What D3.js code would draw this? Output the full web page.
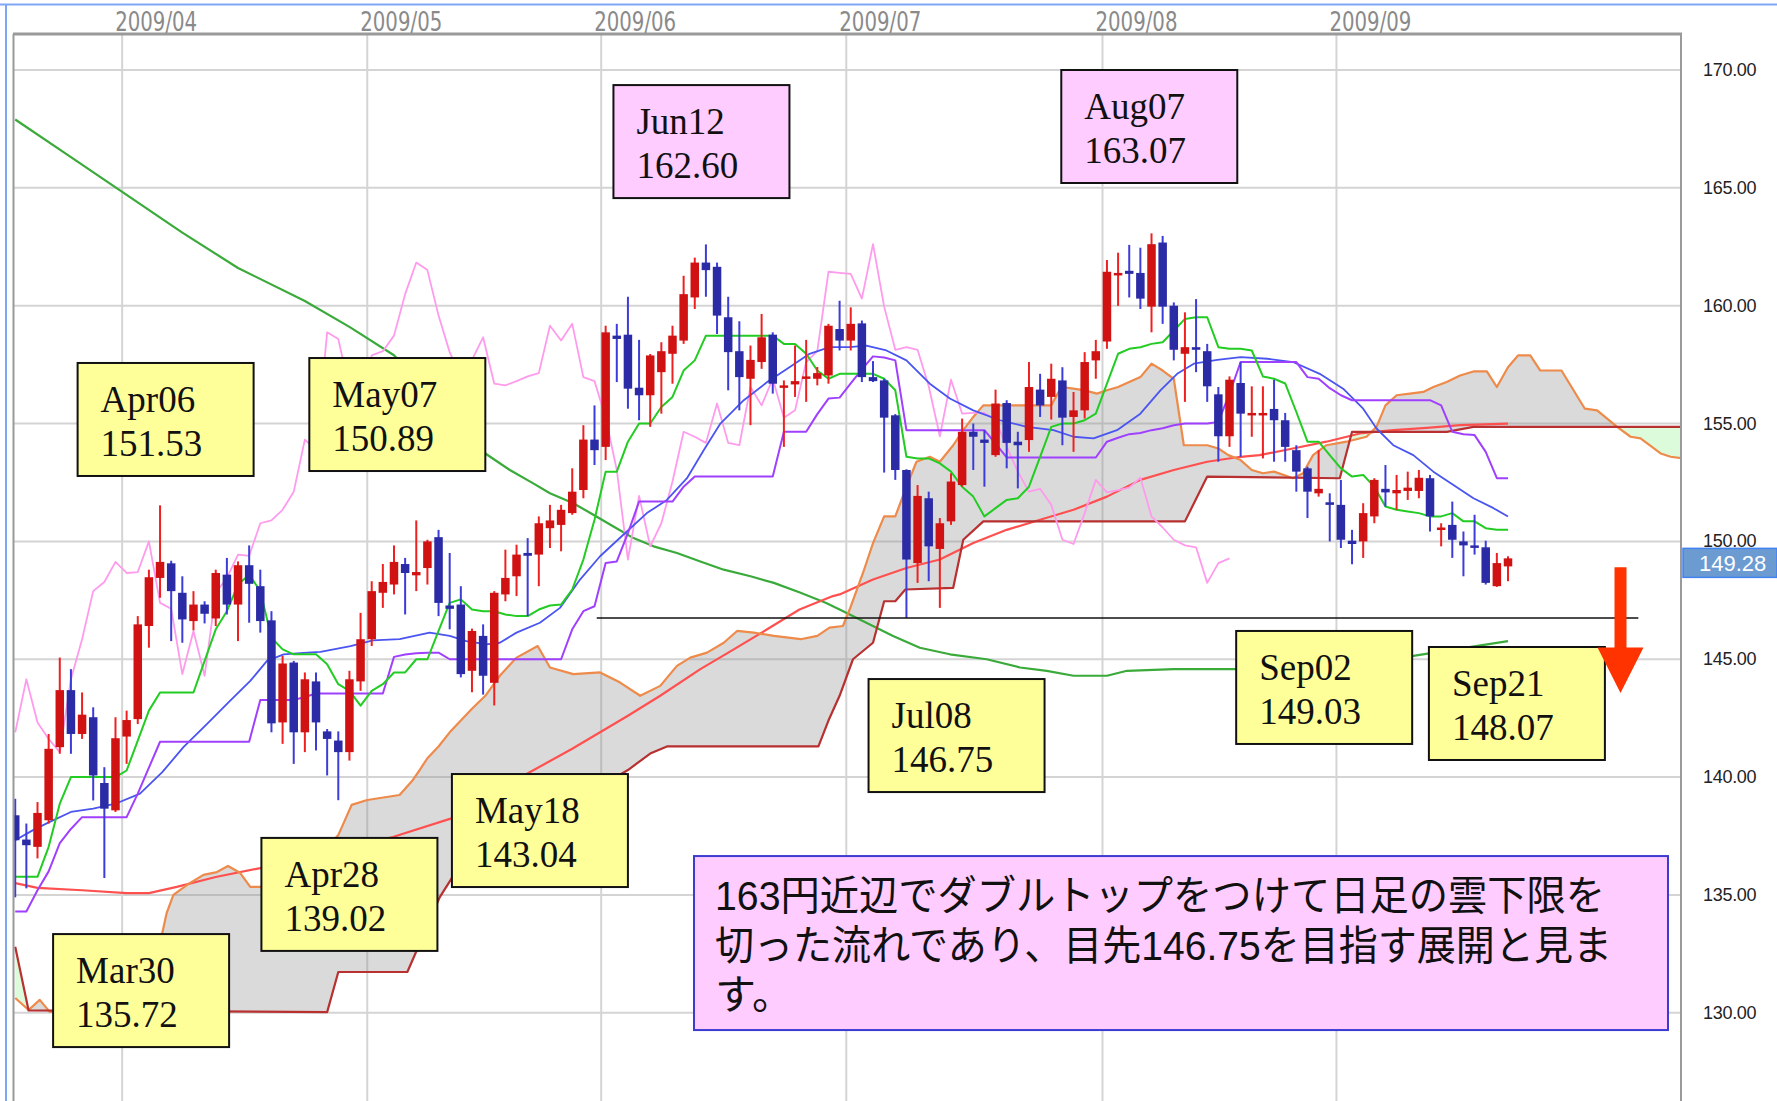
<!DOCTYPE html>
<html>
<head>
<meta charset="utf-8">
<script src="https://cdnjs.cloudflare.com/ajax/libs/d3/7.8.5/d3.min.js"></script>
<style>
  body { margin: 0; background: #fff; overflow: hidden; }
</style>
</head>
<body>
<script>
const width = 1777;
const height = 1101;
const plot = {left: 14, right: 1681, top: 34, bottom: 1101};

// trading days, t = 0 is 2009/03/18, last candle 2009/09/22
const days = d3.timeDay.range(new Date(2009, 2, 18), new Date(2009, 8, 23))
               .filter(d => d.getDay() % 6 !== 0);

const monthLabels = ["2009/04", "2009/05", "2009/06", "2009/07", "2009/08", "2009/09"];
const priceTicks = [130, 135, 140, 145, 150, 155, 160, 165, 170];

// daily OHLC, one value per trading day (Mar | Apr | May | Jun | Jul | Aug | Sep)
const open = [
  138.38,137.35,137.04,138.17,141.27,143.69,141.83,142.54,139.75,138.59,
  141.72,142.46,146.41,148.45,149.07,147.82,146.62,147.32,146.73,148.59,147.32,148.99,148.10,146.65,142.32,144.86,141.90,144.06,141.94,141.55,141.06,144.06,
  145.85,147.82,148.17,149.04,148.56,148.87,150.18,147.28,147.32,144.51,145.99,144.00,147.75,148.52,149.51,149.44,150.56,150.70,151.20,152.18,154.32,
  154.01,158.73,158.77,156.52,156.20,157.18,157.96,158.52,160.35,161.83,161.65,159.51,158.07,156.90,157.61,158.77,156.52,156.66,156.90,156.90,157.04,159.01,
  158.52,159.25,156.97,156.83,155.35,153.03,149.08,151.83,149.68,150.85,152.39,154.65,154.32,153.66,155.87,154.23,154.30,156.44,156.13,156.83,155.28,155.56,157.68,
  158.48,161.30,161.48,161.39,159.96,162.68,160.00,157.96,158.24,158.07,156.24,154.46,156.72,155.35,155.35,155.62,155.14,153.87,153.10,152.04,151.66,
  151.55,150.03,150.00,151.06,152.23,152.04,152.14,152.14,152.68,150.49,150.70,150.00,149.83,149.75,148.10,148.94
];
const high = [
  139.08,138.03,138.94,141.83,145.07,144.58,143.59,142.96,140.42,142.54,
  142.82,146.83,148.80,151.53,149.18,148.52,147.89,147.46,148.80,149.30,149.15,149.83,148.80,147.04,145.14,144.93,144.44,144.44,142.04,141.94,144.51,146.97,
  148.31,149.04,149.83,149.30,150.89,150.07,150.49,149.51,148.10,146.30,146.48,147.89,149.65,149.86,150.14,151.06,151.55,151.55,153.10,154.93,155.77,
  159.15,159.23,160.38,158.55,157.95,158.45,159.15,161.27,162.04,162.60,161.83,160.38,159.34,158.31,159.65,158.87,156.83,158.31,158.55,157.40,159.23,160.21,
  159.93,159.37,157.65,156.90,155.40,153.06,152.39,152.11,150.99,152.89,155.21,155.00,154.72,156.44,155.99,154.65,157.61,157.11,157.54,157.39,156.34,158.03,158.55,
  161.94,162.25,162.58,162.46,163.07,162.96,160.14,159.72,160.28,158.38,156.55,157.00,157.61,156.58,156.58,156.86,155.45,154.08,153.17,153.87,152.04,
  152.61,150.49,151.62,152.68,153.24,152.82,152.96,153.03,152.82,150.77,151.69,150.42,151.13,150.03,149.51,149.37
];
const low = [
  134.90,135.28,136.55,138.03,140.99,140.99,141.62,139.01,135.72,138.52,
  140.56,142.25,145.49,147.61,145.77,145.70,146.23,146.52,146.41,146.90,145.77,146.55,146.13,141.90,141.41,140.56,141.06,141.13,140.07,139.02,140.70,143.66,
  145.56,147.18,147.75,146.90,147.89,148.17,146.83,146.27,144.23,143.60,143.50,143.04,147.46,147.68,146.83,148.10,149.72,149.58,151.13,151.83,153.24,
  153.45,156.76,155.63,155.14,154.86,155.42,156.69,158.38,159.86,160.38,158.80,156.41,155.56,154.93,157.32,156.27,154.01,156.13,155.92,156.62,156.69,158.10,
  158.10,156.76,156.76,152.92,152.61,146.75,148.24,148.31,147.18,150.70,152.32,153.03,152.32,153.59,153.10,152.25,153.80,155.28,155.17,154.08,153.80,155.21,156.90,
  158.17,159.99,160.35,159.86,158.87,159.23,157.68,155.92,157.18,155.92,153.38,154.01,153.59,154.44,153.52,153.38,153.38,152.11,150.99,151.90,150.00,
  149.72,149.03,149.30,150.77,151.48,151.34,151.76,151.83,150.42,149.79,149.30,148.52,149.44,148.17,148.07,148.31
];
const close = [
  137.32,137.11,138.48,141.20,143.69,141.83,142.65,140.07,138.66,141.65,
  142.42,146.48,148.48,149.13,147.89,146.69,147.32,146.93,148.66,147.32,148.99,148.20,146.62,142.28,144.82,141.90,144.15,142.32,141.62,141.06,144.15,145.85,
  147.89,148.28,149.13,148.66,148.70,150.00,147.39,147.14,144.37,146.20,144.30,147.82,148.45,149.44,149.39,150.77,150.89,151.34,152.11,154.32,153.87,
  158.87,158.59,156.48,156.20,157.89,158.07,158.73,160.49,161.83,161.51,159.58,158.03,156.97,157.70,158.66,156.69,156.62,156.80,157.00,157.14,159.15,158.52,
  159.23,156.97,156.80,155.25,153.03,149.23,151.93,149.79,150.77,152.54,154.65,154.44,154.18,155.85,154.18,154.08,156.55,155.77,156.90,155.25,155.56,157.61,158.07,
  161.44,161.39,161.35,160.30,162.61,159.96,158.13,158.24,158.13,156.58,154.46,156.86,155.42,155.45,155.45,155.14,154.01,152.96,152.11,152.23,151.55,
  150.07,149.89,151.20,152.61,152.08,152.18,152.28,152.70,151.06,150.59,150.07,149.83,149.75,148.24,149.08,149.28
];

// tenkan (green) and kijun (purple), one value per trading day
const tenkan = [
  135.77,135.77,135.77,137.04,138.87,140.00,140.00,140.00,140.00,140.00,
  140.28,141.55,142.82,143.59,143.59,143.59,143.59,144.93,146.27,147.04,148.17,148.59,147.89,145.92,145.42,145.21,145.21,145.21,144.79,143.94,143.66,143.03,
  143.66,143.94,144.44,144.44,145.00,145.00,146.20,147.39,147.54,147.11,147.04,147.04,146.90,146.83,146.83,147.11,147.28,147.32,147.96,149.23,150.92,
  152.96,152.96,154.23,155.00,155.00,155.70,156.13,157.25,157.68,158.73,158.73,158.73,158.73,158.73,158.73,158.73,158.38,158.38,157.96,157.25,156.90,157.11,
  157.11,157.11,157.11,156.90,156.41,153.59,153.52,153.52,153.31,152.96,152.32,151.90,151.06,151.41,151.76,151.83,152.32,153.59,154.86,155.00,155.00,155.14,155.42,
  156.69,157.96,158.17,158.24,158.38,158.45,158.94,159.44,159.51,159.51,158.24,158.17,158.17,158.10,157.00,156.90,156.70,155.49,154.23,154.23,153.66,
  153.10,152.75,152.82,152.32,151.48,151.34,151.27,151.20,151.06,151.06,151.20,150.85,150.85,150.56,150.49,150.49
];
const kijun = [
  134.30,134.30,135.20,136.00,137.20,137.80,138.30,138.30,138.30,138.30,
  138.30,139.30,140.40,141.50,141.50,141.50,141.50,141.50,141.50,141.50,141.50,141.50,143.27,143.27,143.27,143.27,143.40,143.55,143.55,143.55,143.55,143.55,
  143.55,143.55,145.10,145.20,145.25,145.28,145.28,145.00,145.00,145.00,145.00,145.00,145.00,145.00,145.00,145.00,145.00,145.00,146.27,147.04,147.25,
  149.08,149.15,150.35,151.69,151.69,151.69,151.69,152.32,152.75,152.75,152.75,152.75,152.75,152.75,152.75,152.75,154.65,154.65,154.65,155.40,156.06,156.10,
  156.70,157.30,157.85,157.80,157.68,154.72,154.72,154.72,154.72,154.72,154.72,154.72,154.72,154.15,153.56,153.56,153.56,153.56,153.56,153.56,153.56,153.56,153.56,
  154.23,154.40,154.55,154.60,154.72,154.80,154.93,155.00,155.00,155.00,155.07,156.27,157.61,157.61,157.61,157.61,157.61,157.61,156.97,156.90,156.50,
  156.20,155.99,155.99,155.99,155.99,155.99,155.99,155.99,155.99,155.77,154.65,154.55,154.51,153.80,152.68,152.68
];

// smoother lines as [trading day, price]
const maBlue = [[0,137.32],[1.6,137.75],[3.1,138.10],[5,138.52],[7,138.66],[9,138.87],[11.2,139.30],[13.2,140.21],[15.1,141.27],[17.2,142.25],[19.3,143.24],[21.1,144.08],[22.6,144.93],[24.1,145.21],[26.2,145.28],[27.4,145.31],[30.1,145.56],[32.1,145.80],[34.5,145.85],[37.2,146.13],[39,145.99],[40.5,145.77],[42.3,145.63],[43.5,145.70],[45,146.13],[47.1,146.55],[48.9,147.18],[50.7,148.38],[52.5,149.37],[54.9,150.42],[56.7,151.20],[58.5,151.76],[60.3,152.68],[61.8,153.87],[63.3,155.00],[65.4,155.99],[67.5,156.76],[69.3,157.32],[71.3,157.96],[73.1,158.24],[74.9,158.24],[76.4,158.31],[78.2,158.10],[80,157.68],[82.1,156.69],[83.9,156.06],[86,155.56],[88.4,155.14],[90.8,154.86],[93.2,154.72],[95,154.44],[96.8,154.37],[98.9,154.72],[101,155.42],[102.8,156.41],[104.3,157.11],[105.8,157.54],[107.9,157.70],[110,157.82],[112.4,157.75],[114.7,157.61],[117.1,157.11],[119.2,156.48],[121,155.63],[122.2,154.79],[123.7,154.08],[125.5,153.66],[127.3,152.96],[129.1,152.39],[130.9,151.83],[132.7,151.41],[134,151.06]];
const maRed = [[0,135.5],[2,135.3],[6,135.2],[10,135.08],[12,135.08],[14.5,135.34],[18,135.76],[22,136.14],[33.9,137.46],[39.3,138.27],[45,139.9],[50,141.2],[55,142.6],[57.9,143.45],[61.5,144.58],[64.5,145.42],[67.5,146.27],[70.4,147.11],[73.4,147.68],[74,147.75],[77,148.38],[80,148.87],[83,149.23],[86,149.93],[89,150.49],[92,150.92],[95,151.34],[98,151.90],[101,152.61],[104,153.03],[107,153.38],[110,153.59],[111.7,153.66],[114.7,153.94],[117.7,154.23],[120.7,154.58],[123.7,154.72],[126.7,154.82],[129.7,154.93],[134,155.0]];
const maGreen = [[0,167.9],[5,166.3],[10,164.7],[15,163.1],[20,161.6],[26,160.2],[30,159.1],[34,157.9],[42.2,153.73],[44.4,153.03],[46.5,152.46],[48,152.04],[50.1,151.62],[51.9,151.13],[53.7,150.63],[55.5,150.14],[57.3,149.79],[59.4,149.51],[61.5,149.15],[63.6,148.80],[66,148.52],[68.1,148.24],[70.5,147.82],[72.8,147.39],[74,147.11],[76.4,146.55],[78.8,145.99],[81.2,145.49],[83.9,145.21],[87.2,145.0],[90.2,144.65],[92.6,144.51],[95,144.30],[98,144.30],[99.8,144.51],[104,144.58],[109.7,144.58],[117,144.8],[125.5,145.14],[134,145.77]];
const senkouA = [[0,130.63],[1.2,130.12],[2.2,130.55],[3.1,130.04],[5,130.2],[8,130.8],[11,131.8],[13.2,133.39],[13.6,134.24],[14.2,135.0],[15.4,135.42],[16.9,135.85],[18.1,135.97],[19.1,136.23],[20.2,135.93],[21.1,135.34],[22,135.34],[25,136.0],[28,137.0],[29,137.54],[30.2,138.82],[31.6,139.03],[34.5,139.24],[35.7,139.88],[36.3,140.3],[37,140.8],[38,141.3],[39,141.9],[40,142.4],[41,142.9],[42.2,143.45],[43.5,144.30],[45,145.07],[46.9,145.56],[48,144.65],[50.1,144.37],[52.5,144.44],[54.3,144.01],[56.1,143.45],[57.9,143.87],[59.4,144.72],[60.6,145.07],[62.1,145.28],[63.6,145.70],[64.8,146.20],[66.3,146.13],[68.1,145.99],[70.5,145.85],[72,145.99],[73.1,146.34],[74.3,146.41],[74.9,147.11],[76.1,148.66],[77,149.93],[78,151.06],[79,151.06],[80,152.32],[80.9,153.38],[82.1,153.59],[83,153.38],[84.2,154.08],[85.1,154.72],[86,155.28],[86.9,155.77],[93,155.77],[93.9,156.55],[95,156.48],[96,156.41],[97.1,156.27],[98,156.41],[99,156.55],[101,156.97],[102,157.54],[103,157.25],[104,156.90],[104.9,154.08],[107,154.08],[108,153.94],[108.9,153.66],[110,153.45],[111,153.03],[112,152.89],[113,152.96],[114.7,152.68],[115.6,152.89],[116.5,153.66],[117.7,154.08],[119.5,154.23],[121.3,154.44],[122.2,154.86],[123,155.77],[124,156.20],[125.2,156.27],[126.4,156.34],[127.3,156.55],[128.5,156.76],[129.7,157.04],[130.9,157.21],[132.1,157.21],[133,156.55],[134,157.39],[134.9,157.89],[136,157.89],[136.9,157.25],[138.8,157.25],[140.9,155.63],[142,155.56],[143.8,154.86],[145,154.44],[145.9,154.37],[147.7,153.73],[148.6,153.59],[150,153.5]];
const senkouB = [[0,132.8],[1.2,130.1],[28,130.03],[29,131.73],[35.2,131.73],[36,132.6],[38.1,134.9],[39.3,135.8],[45,137.6],[50,138.9],[55,140.3],[57,141.0],[58.5,141.3],[72.1,141.3],[73,142.4],[74,143.45],[75.2,145.0],[77,145.7],[78,147.46],[79,147.46],[79.9,147.96],[84.2,148.03],[85.1,150.07],[86.9,150.85],[105,150.85],[107,152.75],[118.9,152.68],[120,154.65],[128.5,154.65],[130.9,154.86],[150,154.86]];

const targetLevel = 146.75;
const noteDates = ["Mar30", "Apr06", "Apr28", "May07", "May18", "Jun12", "Jul08", "Aug07", "Sep02", "Sep21"];
const noteValues = ["135.72", "151.53", "139.02", "150.89", "143.04", "162.60", "146.75", "163.07", "149.03", "148.07"];
const comment = ["163円近辺でダブルトップをつけて日足の雲下限を", "切った流れであり、目先146.75を目指す展開と見ま", "す。"];

// layout: where each note box sits, as [trading day, price] of its top-left corner
const noteBoxAt = [[3.4,133.34],[5.6,157.57],[22.1,137.42],[26.4,157.78],[39.2,140.13],[53.7,169.36],[76.6,144.16],[93.9,170.0],[109.6,146.2],[126.9,145.52]];
const noteHighlight = ["Jun12", "Aug07"];

const x = d3.scaleLinear().domain([-0.11, 149.53]).range([plot.left, plot.right]);
const y = d3.scaleLinear().domain([130, 170]).range([1012.8, 70]);

const svg = d3.select("body").append("svg")
              .attr("width", width)
              .attr("height", height)
              .style("display", "block");

svg.append("rect").attr("width", width).attr("height", height).attr("fill", "#fff");

// window edges
svg.append("line").attr("x1", 0).attr("x2", width).attr("y1", 4.5).attr("y2", 4.5)
   .attr("stroke", "#7fa6f5").attr("stroke-width", 2);
svg.append("line").attr("x1", 6).attr("x2", 6).attr("y1", 4).attr("y2", height)
   .attr("stroke", "#7fa6f5").attr("stroke-width", 2);

const defs = svg.append("defs");
defs.append("clipPath").attr("id", "plotClip")
    .append("rect").attr("x", plot.left).attr("y", plot.top)
    .attr("width", plot.right - plot.left).attr("height", plot.bottom - plot.top);

const g = svg.append("g").attr("clip-path", "url(#plotClip)");

// grid
const monthStart = monthLabels.map(m => days.findIndex(d => d3.timeFormat("%Y/%m")(d) === m));
g.selectAll("line.hgrid").data(priceTicks).join("line")
 .attr("x1", plot.left).attr("x2", plot.right)
 .attr("y1", d => y(d)).attr("y2", d => y(d))
 .attr("stroke", "#d4d4d4").attr("stroke-width", 2);
g.selectAll("line.vgrid").data(monthStart).join("line")
 .attr("x1", d => x(d - 0.4)).attr("x2", d => x(d - 0.4))
 .attr("y1", plot.top).attr("y2", plot.bottom)
 .attr("stroke", "#d4d4d4").attr("stroke-width", 2);

// cloud between the two leading spans
const pt = d => [x(d[0]), y(d[1])];
const path = pts => "M" + pts.map(p => p.join(",")).join("L");
const bPts = senkouB.map(pt);
const cloud = path(senkouA.map(pt).concat(bPts.slice().reverse())) + "Z";
defs.append("clipPath").attr("id", "aboveB")
    .append("path").attr("d", path(bPts) + `L${x(151)},0L${x(-1)},0L${x(-1)},${bPts[0][1]}Z`);
defs.append("clipPath").attr("id", "belowB")
    .append("path").attr("d", path(bPts) + `L${x(151)},${height + 50}L${x(-1)},${height + 50}L${x(-1)},${bPts[0][1]}Z`);
g.append("path").attr("d", cloud).attr("fill", "#8c8c8c").attr("fill-opacity", 0.32)
 .attr("fill-rule", "evenodd").attr("clip-path", "url(#aboveB)");
g.append("path").attr("d", cloud).attr("fill", "#b8f7b8").attr("fill-opacity", 0.5)
 .attr("fill-rule", "evenodd").attr("clip-path", "url(#belowB)");

// lines
const line = d3.line().x(d => x(d[0])).y(d => y(d[1]));
const daily = arr => arr.map((v, t) => [t, v]);
const chikou = close.map((c, t) => [t - 25, c]).filter(d => d[0] >= 0);
const series = [
  {data: maGreen, color: "#3aaa3a", w: 2.2},
  {data: maRed, color: "#ff5050", w: 2.2},
  {data: senkouA, color: "#ee8a4a", w: 2.2},
  {data: senkouB, color: "#b83030", w: 2.2},
  {data: chikou, color: "#ff9bec", w: 1.8},
  {data: maBlue, color: "#4a55f0", w: 1.8},
  {data: daily(kijun), color: "#a040ff", w: 2},
  {data: daily(tenkan), color: "#22cc22", w: 2}
];
series.forEach(s => {
  g.append("path").attr("d", line(s.data)).attr("fill", "none")
   .attr("stroke", s.color).attr("stroke-width", s.w).attr("stroke-linejoin", "round");
});

// candles
const idx = d3.range(open.length);
const up = t => close[t] >= open[t];
const bodyW = 8.5;
g.selectAll("line.wick").data(idx).join("line")
 .attr("x1", t => x(t)).attr("x2", t => x(t))
 .attr("y1", t => y(high[t])).attr("y2", t => y(low[t]))
 .attr("stroke", t => up(t) ? "#f02020" : "#3c3cd8").attr("stroke-width", 2);
g.selectAll("rect.body").data(idx).join("rect")
 .attr("x", t => x(t) - bodyW / 2)
 .attr("y", t => y(Math.max(open[t], close[t])))
 .attr("width", bodyW)
 .attr("height", t => Math.max(2.5, Math.abs(y(open[t]) - y(close[t]))))
 .attr("fill", t => up(t) ? "#d01212" : "#2b2ba6");

// target level
g.append("line")
 .attr("x1", x(52.2)).attr("x2", x(145.7))
 .attr("y1", y(targetLevel)).attr("y2", y(targetLevel))
 .attr("stroke", "#111").attr("stroke-width", 1.6);

// note boxes
const notes = g.selectAll("g.note").data(noteDates).join("g")
  .attr("transform", (d, i) => `translate(${x(noteBoxAt[i][0])},${y(noteBoxAt[i][1])})`);
notes.append("rect").attr("width", 176).attr("height", 113)
  .attr("fill", d => noteHighlight.includes(d) ? "#ffccff" : "#ffff99")
  .attr("stroke", "#111").attr("stroke-width", 2);
notes.append("text").attr("x", 23).attr("y", 49).text(d => d);
notes.append("text").attr("x", 23).attr("y", 93).text((d, i) => noteValues[i]);
notes.selectAll("text")
  .attr("font-family", "'Liberation Serif', 'Times New Roman', serif")
  .attr("font-size", 37).attr("fill", "#111");

// downward arrow
const arrowT = 144.1;
const ax = x(arrowT);
g.append("path")
 .attr("d", `M${ax - 6},${y(148.9)}L${ax + 6},${y(148.9)}L${ax + 6},${y(145.5)}L${ax + 23},${y(145.5)}` +
            `L${ax},${y(143.57)}L${ax - 23},${y(145.5)}L${ax - 6},${y(145.5)}Z`)
 .attr("fill", "#ff3300");

// comment box; Latin metrics first so the three tight lines keep slim boxes
const cb = g.append("g").attr("transform", `translate(${x(60.93)},${y(136.65)})`);
cb.append("rect").attr("width", 974).attr("height", 174)
  .attr("fill", "#ffccff").attr("stroke", "#3b3bd0").attr("stroke-width", 2);
const lineLen = [890, 897, null];
cb.selectAll("text").data(comment).join("text")
  .attr("lang", "ja")
  .attr("x", 21).attr("y", (d, i) => 54 + i * 49.5)
  .attr("font-family", "'Liberation Sans', 'Noto Sans CJK JP', sans-serif")
  .attr("font-size", 41).attr("fill", "#111")
  .each(function(d, i) {
    if (lineLen[i]) d3.select(this).attr("textLength", lineLen[i]).attr("lengthAdjust", "spacingAndGlyphs");
  })
  .text(d => d);

// frame
svg.append("line").attr("x1", plot.left - 1).attr("x2", plot.right + 1)
   .attr("y1", plot.top).attr("y2", plot.top).attr("stroke", "#9a9a9a").attr("stroke-width", 3);
svg.append("line").attr("x1", plot.left - 0.5).attr("x2", plot.left - 0.5)
   .attr("y1", plot.top).attr("y2", plot.bottom).attr("stroke", "#9a9a9a").attr("stroke-width", 2);
svg.append("line").attr("x1", plot.right).attr("x2", plot.right)
   .attr("y1", plot.top).attr("y2", plot.bottom).attr("stroke", "#9a9a9a").attr("stroke-width", 2);

// month labels
svg.selectAll("text.month").data(monthStart).join("text")
   .attr("x", d => x(d - 0.4) - 7).attr("y", 31)
   .attr("font-family", "'Liberation Sans Narrow', 'DejaVu Sans Condensed', sans-serif")
   .attr("font-size", 27).attr("fill", "#8a8a8a")
   .attr("textLength", 82).attr("lengthAdjust", "spacingAndGlyphs")
   .text((d, i) => monthLabels[i]);

// price labels
svg.selectAll("text.price").data(priceTicks).join("text")
   .attr("x", 1703).attr("y", d => y(d) + 6)
   .attr("font-family", "'Liberation Sans', Arial, sans-serif")
   .attr("font-size", 18).attr("fill", "#222").attr("letter-spacing", -0.3)
   .text(d3.format(".2f"));

// last price tag
const last = close[close.length - 1];
svg.append("rect").attr("x", plot.right + 2).attr("y", y(last) - 10)
   .attr("width", width - plot.right - 2).attr("height", 29)
   .attr("fill", "#6c9bd2").attr("stroke", "#3f82f0").attr("stroke-width", 1.5);
svg.append("text").attr("x", 1699).attr("y", y(last) + 13)
   .attr("font-family", "'Liberation Sans', Arial, sans-serif")
   .attr("font-size", 22).attr("fill", "#fff")
   .text(d3.format(".2f")(last));
</script>
</body>
</html>
